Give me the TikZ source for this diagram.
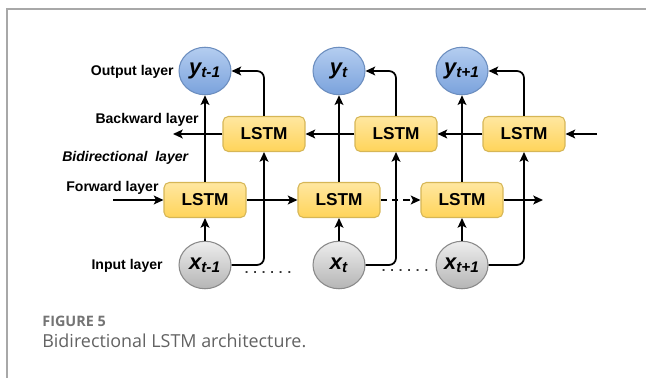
\documentclass[tikz,border=0pt]{standalone}
\usepackage{fontspec}
\setmainfont{Liberation Sans}
\newfontfamily\piefont{Open Sans}
\usetikzlibrary{shapes.geometric,arrows.meta}

\definecolor{lstmborde}{HTML}{D6B656}
\definecolor{lstmarriba}{HTML}{FFE7A0}
\definecolor{lstmabajo}{HTML}{FFD45A}
\definecolor{salborde}{HTML}{6C8EBF}
\definecolor{salarriba}{HTML}{B4CDF0}
\definecolor{salabajo}{HTML}{7AA2DC}
\definecolor{entborde}{HTML}{8A8A8A}
\definecolor{entarriba}{HTML}{EDEDED}
\definecolor{entabajo}{HTML}{B5B5B5}
\definecolor{marco}{HTML}{A8A8A8}
\definecolor{figgris}{HTML}{747474}
\definecolor{textogris}{HTML}{626262}

\begin{document}
\begin{tikzpicture}[x=0.02cm, y=-0.02cm,
    >={Stealth[length=5.5pt,width=5pt,inset=1.2pt]},
    lstm/.style={rectangle, rounded corners=3pt, draw=lstmborde, line width=0.6pt,
      top color=lstmarriba, bottom color=lstmabajo,
      minimum width=1.64cm, minimum height=0.70cm,
      font=\bfseries\fontsize{9.8}{10}\selectfont},
    salida/.style={ellipse, draw=salborde, line width=0.6pt,
      top color=salarriba, bottom color=salabajo,
      minimum width=1.04cm, minimum height=0.95cm, inner sep=0pt,
      font=\bfseries\itshape\fontsize{12.5}{12}\selectfont},
    entrada/.style={salida, draw=entborde, top color=entarriba, bottom color=entabajo},
    capa/.style={inner sep=0pt, font=\bfseries\fontsize{8}{9}\selectfont},
    puntos/.style={font=\bfseries\fontsize{7.5}{8}\selectfont, text=black!80},
    flecha/.style={->, line width=1pt},
    codo/.style={flecha, rounded corners=4pt}]
  \useasboundingbox (0,0) rectangle (646,378);

  % Marco
  \draw[marco, line width=0.9pt] (7,378) -- (7,9) -- (646,9);

  % Capa de salida
  \node[salida] (yA) at (205,71) {y\textsubscript{t-1}};
  \node[salida] (yB) at (339,71) {y\textsubscript{t}};
  \node[salida] (yC) at (462,71) {y\textsubscript{t+1}};

  % Capa hacia atras
  \node[lstm] (bA) at (264,134) {LSTM};
  \node[lstm] (bB) at (396,134) {LSTM};
  \node[lstm] (bC) at (524,134) {LSTM};

  % Capa hacia adelante
  \node[lstm] (fA) at (205,200) {LSTM};
  \node[lstm] (fB) at (339,200) {LSTM};
  \node[lstm] (fC) at (462,200) {LSTM};

  % Capa de entrada
  \node[entrada] (xA) at (205,265) {x\textsubscript{t-1}};
  \node[entrada] (xB) at (339,265) {x\textsubscript{t}};
  \node[entrada] (xC) at (462,265) {x\textsubscript{t+1}};
  \node[puntos] (pA) at (268,273) {. . . . . .};
  \node[puntos] (pB) at (405,271) {. . . . . .};

  % Extremos libres
  \coordinate (inB) at (597,134);
  \coordinate (outB) at (173,134);
  \coordinate (inF) at (113,200);
  \coordinate (outF) at (543,200);

  % Flujo hacia atras
  \draw[flecha] (inB) -- (bC);
  \draw[flecha] (bC) -- (bB);
  \draw[flecha] (bB) -- (bA);
  \draw[flecha] (bA) -- (outB);

  % Flujo hacia adelante
  \draw[flecha] (inF) -- (fA);
  \draw[flecha] (fA) -- (fB);
  \draw[flecha, dash pattern=on 3.5pt off 3pt] (fB) -- (fC);
  \draw[flecha] (fC) -- (outF);

  % Entradas y salidas
  \foreach \c in {A,B,C} {
    \draw[flecha] (x\c) -- (f\c);
    \draw[flecha] (f\c) -- (y\c);
    \draw[codo] (x\c.east) -| (b\c.south);
    \draw[codo] (b\c.north) |- (y\c.east);
  }

  % Etiquetas
  \node[capa, anchor=east] (lOut) at (174,72) {Output layer};
  \node[capa, anchor=east] (lBack) at (199,120) {Backward layer};
  \node[capa, anchor=west, font=\bfseries\itshape\fontsize{8}{9}\selectfont] (lBi) at (62,158) {Bidirectional\ \ layer};
  \node[capa, anchor=west] (lFwd) at (66,188) {Forward layer};
  \node[capa, anchor=east] (lIn) at (163,266) {Input layer};

  % Pie de figura
  \node[inner sep=0pt, anchor=base west, text=figgris, font=\piefont\bfseries\fontsize{8.2}{9}\selectfont] (fig) at (42,327) {FIGURE 5};
  \node[inner sep=0pt, anchor=base west, text=textogris, font=\piefont\fontsize{10.2}{11}\selectfont] (pie) at (42,348) {Bidirectional LSTM architecture.};
\end{tikzpicture}
\end{document}
